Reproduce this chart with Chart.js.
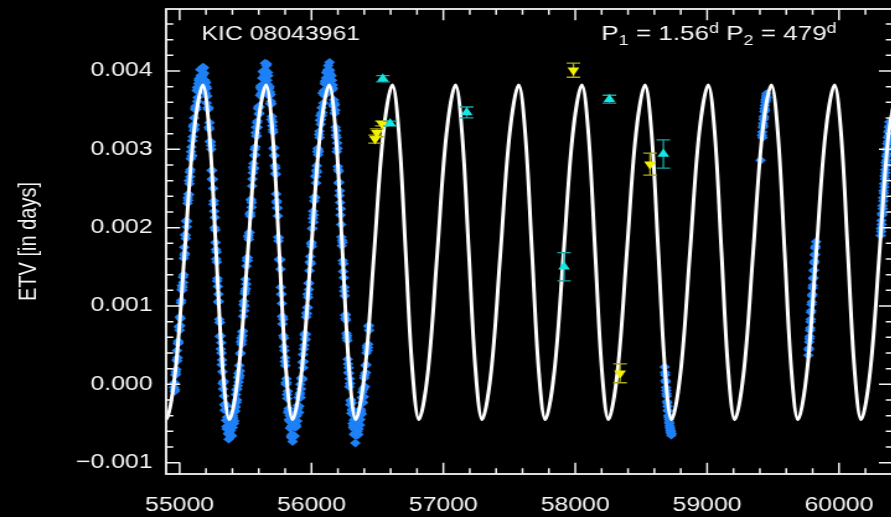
<!DOCTYPE html>
<html lang="en">
<head>
<meta charset="UTF-8">
<title>KIC 08043961 ETV</title>
<script src="https://cdn.jsdelivr.net/npm/chart.js"></script>
<style>
  html, body { margin: 0; padding: 0; background: #000; overflow: hidden; }
</style>
</head>
<body>
<!-- drawn at 726 px wide, shown at 900 px: the plot is stretched sideways -->
<canvas id="etv" width="726" height="517" style="display:block;width:900px;height:517px"></canvas>
<script>
// ETV values of the blue points are kept in units of 1e-5 d
const ETV_UNIT = 1e-5;

const xTicks = [55000, 56000, 57000, 58000, 59000, 60000];
const yTicks = [-0.001, 0, 0.001, 0.002, 0.003, 0.004];

// Kepler primary minima (MJD)
const keplerPriDays = [
  54957,54962,54967,54972,54977,54982,54987,54992,54997,55002,
  55007,55012,55017,55022,55027,55032,55037,55042,55047,55052,
  55057,55062,55067,55072,55077,55082,55087,55092,55097,55102,
  55107,55112,55117,55122,55127,55132,55137,55142,55147,55152,
  55157,55162,55167,55172,55177,55182,55187,55192,55197,55202,
  55207,55212,55217,55222,55227,55232,55237,55242,55247,55252,
  55257,55262,55267,55272,55277,55282,55287,55292,55297,55302,
  55307,55312,55317,55322,55327,55332,55337,55342,55347,55352,
  55357,55362,55367,55372,55377,55382,55387,55392,55397,55402,
  55407,55412,55417,55422,55427,55432,55437,55442,55447,55452,
  55457,55462,55467,55472,55477,55482,55487,55492,55497,55502,
  55507,55512,55517,55522,55527,55532,55537,55542,55547,55552,
  55557,55562,55567,55572,55577,55582,55587,55592,55597,55602,
  55607,55612,55617,55622,55627,55632,55637,55642,55647,55652,
  55657,55662,55667,55672,55677,55682,55687,55692,55697,55702,
  55707,55712,55717,55722,55727,55732,55737,55742,55747,55752,
  55757,55762,55767,55772,55777,55782,55787,55792,55797,55802,
  55807,55812,55817,55822,55827,55832,55837,55842,55847,55852,
  55857,55862,55867,55872,55877,55882,55887,55892,55897,55902,
  55907,55912,55917,55922,55927,55932,55937,55942,55947,55952,
  55957,55962,55967,55972,55977,55982,55987,55992,55997,56002,
  56007,56012,56017,56022,56027,56032,56037,56042,56047,56052,
  56057,56062,56067,56072,56077,56082,56087,56092,56097,56102,
  56107,56112,56117,56122,56127,56132,56137,56142,56147,56152,
  56157,56162,56167,56172,56177,56182,56187,56192,56197,56202,
  56207,56212,56217,56222,56227,56232,56237,56242,56247,56252,
  56257,56262,56267,56272,56277,56282,56287,56292,56297,56302,
  56307,56312,56317,56322,56327,56332,56337,56342,56347,56352,
  56357,56362,56367,56372,56377,56382,56387,56392,56397,56402,
  56407,56412,56417,56422,56427,56432,56437
];
const keplerPriEtv = [
  -4, -9, 12, 13, 31, 30, 52, 53, 74,
  86, 84, 107, 126, 124, 130, 161, 165, 191, 186, 209, 208, 238, 243, 242, 271, 274, 297, 291, 311,
  329, 324, 326, 351, 355, 351, 379, 366, 384, 390, 382, 402, 394, 386, 403,
  405, 388, 397, 388, 372, 380, 378, 353, 352, 328, 334, 310, 305, 273, 273, 262, 230, 221, 213, 181,
  160, 156, 135, 105, 106, 79, 79, 45, 40, 31, 1, 3, -15, -33, -27, -46, -57, -47, -63, -70, -63,
  -65, -59, -65, -48, -55, -43, -50, -28, -34, -13, -23, -6, 9, 3, 24, 17, 40, 59, 56, 62,
  87, 106, 100, 119, 122, 151, 161, 158, 190, 193, 217, 215, 235, 232, 262, 277, 275, 292, 293, 321,
  317, 334, 328, 354, 355, 354, 379, 377, 372, 391, 399, 390, 398, 410, 398,
  407, 409, 383, 394, 378, 380, 358, 361, 358, 330, 325, 301, 302, 279, 276, 243, 234, 225, 188, 187,
  160, 159, 124, 115, 87, 86, 62, 59, 29, 24, 0, 2, -18, -36, -31, -47, -56, -55, -68, -64, -73,
  -66, -54, -66, -46, -52, -36, -47, -31, -17, -28, -11, -17, 8, 8, 28, 21, 45, 63, 58, 64,
  91, 98, 98, 129, 129, 156, 156, 179, 176, 199, 221, 216, 239, 238, 265, 273, 271, 301, 299, 319,
  315, 343, 338, 353, 347, 372, 371, 369, 387, 384, 398, 385, 399, 407, 399,
  411, 396, 381, 394, 376, 378, 355, 359, 357, 328, 324, 297, 301, 274, 272, 241, 232, 224, 188, 184,
  158, 154, 119, 113, 84, 82, 59, 56, 26, 21, -3, 1, -21, -37, -33, -50, -53, -64, -63, -75,
  -65, -54, -65, -48, -57, -45, -52, -32, -37, -17, -24, -7, -16, 11, 14, 15, 40, 46, 47, 74, 69
];

// Kepler secondary minima (MJD)
const keplerSecDays = [
  54960,54965,54970,54975,54980,54985,54990,54995,55000,55005,
  55010,55015,55020,55025,55030,55035,55040,55045,55050,55055,
  55060,55065,55070,55075,55080,55085,55090,55095,55100,55105,
  55110,55115,55120,55125,55130,55135,55140,55145,55150,55155,
  55160,55165,55170,55175,55180,55185,55190,55195,55200,55205,
  55210,55215,55220,55225,55230,55235,55240,55245,55250,55255,
  55260,55265,55270,55275,55280,55285,55290,55295,55300,55305,
  55310,55315,55320,55325,55330,55335,55340,55345,55350,55355,
  55360,55365,55370,55375,55380,55385,55390,55395,55400,55405,
  55410,55415,55420,55425,55430,55435,55440,55445,55450,55455,
  55460,55465,55470,55475,55480,55485,55490,55495,55500,55505,
  55510,55515,55520,55525,55530,55535,55540,55545,55550,55555,
  55560,55565,55570,55575,55580,55585,55590,55595,55600,55605,
  55610,55615,55620,55625,55630,55635,55640,55645,55650,55655,
  55660,55665,55670,55675,55680,55685,55690,55695,55700,55705,
  55710,55715,55720,55725,55730,55735,55740,55745,55750,55755,
  55760,55765,55770,55775,55780,55785,55790,55795,55800,55805,
  55810,55815,55820,55825,55830,55835,55840,55845,55850,55855,
  55860,55865,55870,55875,55880,55885,55890,55895,55900,55905,
  55910,55915,55920,55925,55930,55935,55940,55945,55950,55955,
  55960,55965,55970,55975,55980,55985,55990,55995,56000,56005,
  56010,56015,56020,56025,56030,56035,56040,56045,56050,56055,
  56060,56065,56070,56075,56080,56085,56090,56095,56100,56105,
  56110,56115,56120,56125,56130,56135,56140,56145,56150,56155,
  56160,56165,56170,56175,56180,56185,56190,56195,56200,56205,
  56210,56215,56220,56225,56230,56235,56240,56245,56250,56255,
  56260,56265,56270,56275,56280,56285,56290,56295,56300,56305,
  56310,56315,56320,56325,56330,56335,56340,56345,56350,56355,
  56360,56365,56370,56375,56380,56385,56390,56395,56400,56405,
  56410,56415,56420,56425,56430,56435
];
const keplerSecEtv = [
  2, -7, 16, 19, 43, 34, 55, 73, 69, 75,
  104, 121, 120, 137, 140, 175, 167, 190, 208, 201,
  231, 235, 260, 256, 265, 288, 303, 292, 316, 331,
  340, 331, 353, 353, 375, 361, 377, 388, 377, 375,
  394, 401, 389, 394, 383, 404, 381, 386, 385, 359,
  368, 351, 353, 326, 310, 309, 300, 262, 261, 250,
  234, 200, 197, 172, 169, 132, 125, 115, 83, 61,
  62, 53, 25, 16, -6, 4, -26, -25, -28, -54,
  -42, -54, -44, -62, -65, -52, -46, -66, -48, -40,
  -36, -47, -28, -29, -7, -20, -2, 14, 8, 11,
  39, 54, 51, 67, 68, 102, 94, 116, 134, 128,
  158, 162, 188, 185, 194, 219, 236, 226, 253, 270,
  282, 276, 300, 303, 328, 317, 336, 352, 345, 346,
  369, 381, 371, 381, 375, 400, 383, 395, 401, 382,
  398, 388, 398, 377, 368, 373, 370, 338, 342, 335,
  322, 292, 292, 269, 268, 232, 225, 215, 183, 159,
  159, 147, 115, 103, 77, 83, 48, 43, 34, 2,
  7, -13, -9, -34, -45, -40, -40, -66, -53, -50,
  -50, -66, -51, -55, -37, -54, -40, -27, -36, -36,
  -13, 0, -6, 7, 6, 38, 29, 50, 65, 57,
  86, 90, 115, 111, 121, 145, 163, 154, 181, 199,
  212, 207, 234, 239, 266, 257, 279, 297, 293, 297,
  323, 337, 332, 346, 343, 372, 359, 375, 384, 370,
  391, 386, 401, 387, 385, 397, 401, 376, 388, 388,
  382, 357, 363, 346, 350, 318, 315, 308, 278, 257,
  258, 247, 216, 204, 177, 181, 144, 136, 124, 88,
  89, 65, 62, 32, 15, 14, 7, -26, -20, -24,
  -32, -55, -46, -57, -44, -65, -55, -47, -60, -64,
  -44, -35, -45, -34, -38, -10, -23, -5, 8, -3,
  24, 25, 49, 43, 51, 75
];

// TESS sectors
const tessDays = [
  58678,58680,58682,58684,58686,58688,58690,58692,58694,58696,58698,58700,58702,58704,
  58706,58708,58710,58712,58714,58716,58718,58720,58722,58724,58726,58728,58730,
  59405,
  59416,59418,59420,59422,59424,59426,59428,59430,59432,59434,59436,59438,59440,59442,
  59444,59446,59448,59450,59452,
  59768,59770,59772,59774,59776,59778,59780,59782,59784,59786,59788,59790,59792,59794,
  59796,59798,59800,59802,59804,59806,59808,59810,59812,59814,59816,59818,59820,59822,59826,
  60316,60318,60320,60322,60324,60326,60328,60330,60332,60334,60336,60338,60340,60342,
  60344,60346,60348,60350,60352,60354,60356,60358,60360,60362,60364,60366,60368,60370,
  60372,60374,60376,60378,60380,60382,60384
];
const tessEtv = [
  22, 15, 12, 5, 3, -4, -8, -12, -15, -22, -24, -28, -33, -34,
  -40, -42, -45, -48, -50, -53, -55, -57, -59, -62, -60, -65, -63,
  286,
  318, 322, 315, 328, 333, 330, 338, 342, 340, 348, 352, 356, 350, 360,
  364, 362, 368, 371, 366,
  37, 44, 46, 54, 58, 61, 69, 72, 80, 83, 92, 94, 102, 105,
  113, 115, 123, 126, 135, 136, 145, 146, 155, 157, 165, 166, 174, 176, 182,
  190, 199, 195, 209, 204, 218, 216, 228, 224, 238, 234, 247, 244, 256,
  252, 266, 262, 274, 270, 283, 279, 291, 286, 299, 294, 307, 302, 315,
  310, 322, 317, 328, 324, 335, 330
];

// ground-based minima (up = primary, down = secondary), value and error in days
const cyanDays = [56541, 56596, 57177, 57915, 58259, 58668];
const cyanEtv  = [0.00390, 0.00333, 0.00347, 0.00150, 0.00364, 0.00294];
const cyanErr  = [0.00004, 0.00003, 0.00007, 0.00018, 0.00005, 0.00018];
const yellowDays = [56482, 56495, 56533, 57986, 58340, 58567];
const yellowEtv  = [0.00313, 0.00321, 0.00333, 0.00401, 0.00014, 0.00281];
const yellowErr  = [0.00005, 0.00005, 0.00003, 0.00009, 0.00012, 0.00014];

// LTTE model curve, P2 = 479 d
const modelDays = [
  54849, 54899, 54968, 55038, 55107,
  55176, 55226, 55277, 55328, 55378, 55447, 55517, 55586,
  55655, 55705, 55756, 55807, 55857, 55926, 55996, 56065,
  56134, 56184, 56235, 56286, 56336, 56405, 56475, 56544,
  56613, 56663, 56714, 56765, 56815, 56884, 56954, 57023,
  57092, 57142, 57193, 57244, 57294, 57363, 57433, 57502,
  57571, 57621, 57672, 57723, 57773, 57842, 57912, 57981,
  58050, 58100, 58151, 58202, 58252, 58321, 58391, 58460,
  58529, 58579, 58630, 58681, 58731, 58800, 58870, 58939,
  59008, 59058, 59109, 59160, 59210, 59279, 59349, 59418,
  59487, 59537, 59588, 59639, 59689, 59758, 59828, 59897,
  59966, 60016, 60067, 60118, 60168, 60237, 60307, 60376,
  60445
];
const modelEtv = [
  0.000175, -0.00045, 0.000175, 0.001685, 0.003195,
  0.00382, 0.003195, 0.001685, 0.000175, -0.00045, 0.000175, 0.001685, 0.003195,
  0.00382, 0.003195, 0.001685, 0.000175, -0.00045, 0.000175, 0.001685, 0.003195,
  0.00382, 0.003195, 0.001685, 0.000175, -0.00045, 0.000175, 0.001685, 0.003195,
  0.00382, 0.003195, 0.001685, 0.000175, -0.00045, 0.000175, 0.001685, 0.003195,
  0.00382, 0.003195, 0.001685, 0.000175, -0.00045, 0.000175, 0.001685, 0.003195,
  0.00382, 0.003195, 0.001685, 0.000175, -0.00045, 0.000175, 0.001685, 0.003195,
  0.00382, 0.003195, 0.001685, 0.000175, -0.00045, 0.000175, 0.001685, 0.003195,
  0.00382, 0.003195, 0.001685, 0.000175, -0.00045, 0.000175, 0.001685, 0.003195,
  0.00382, 0.003195, 0.001685, 0.000175, -0.00045, 0.000175, 0.001685, 0.003195,
  0.00382, 0.003195, 0.001685, 0.000175, -0.00045, 0.000175, 0.001685, 0.003195,
  0.00382, 0.003195, 0.001685, 0.000175, -0.00045, 0.000175, 0.001685, 0.003195,
  0.00382
];

const FONT = "'Liberation Sans', Arial, Helvetica, sans-serif";
const INK = '#f4f4f4';
const BLUE = '#1e80f6';

function toPoints(xs, ys, unit) {
  return xs.map((x, i) => ({ x: x, y: ys[i] * unit }));
}

// inward ticks on all four sides plus the box
const framePlugin = {
  id: 'frame',
  afterDatasetsDraw(chart) {
    const { ctx, chartArea: a, scales: { x, y } } = chart;
    ctx.save();
    ctx.strokeStyle = INK;
    ctx.lineWidth = 1.8;
    ctx.strokeRect(a.left, a.top, a.right - a.left, a.bottom - a.top);
    ctx.lineWidth = 1.5;
    ctx.beginPath();
    for (let v = 54800; v <= 60600; v += 200) {
      const px = x.getPixelForValue(v);
      if (px <= a.left + 1 || px >= a.right - 1) continue;
      const len = v % 1000 === 0 ? 11.3 : 5.8;
      ctx.moveTo(px, a.bottom); ctx.lineTo(px, a.bottom - len);
      ctx.moveTo(px, a.top); ctx.lineTo(px, a.top + len);
    }
    for (let k = -6; k <= 24; k++) {
      const py = y.getPixelForValue(k * 0.0002);
      if (py <= a.top + 1 || py >= a.bottom - 1) continue;
      const len = k % 5 === 0 ? 11.3 : 5.8;
      ctx.moveTo(a.left, py); ctx.lineTo(a.left + len, py);
      ctx.moveTo(a.right, py); ctx.lineTo(a.right - len, py);
    }
    ctx.stroke();
    ctx.restore();
  }
};

// error bars under the triangle markers
const errorBarPlugin = {
  id: 'errorBars',
  beforeDatasetDraw(chart, args) {
    const ds = chart.data.datasets[args.index];
    if (!ds.errors) return;
    const { ctx, scales: { x, y } } = chart;
    ctx.save();
    ctx.strokeStyle = ds.errorColor;
    ctx.lineWidth = 1.3;
    ctx.beginPath();
    ds.data.forEach((p, i) => {
      const px = x.getPixelForValue(p.x);
      const lo = y.getPixelForValue(p.y - ds.errors[i]);
      const hi = y.getPixelForValue(p.y + ds.errors[i]);
      ctx.moveTo(px, lo); ctx.lineTo(px, hi);
      ctx.moveTo(px - 5.5, lo); ctx.lineTo(px + 5.5, lo);
      ctx.moveTo(px - 5.5, hi); ctx.lineTo(px + 5.5, hi);
    });
    ctx.stroke();
    ctx.restore();
  }
};

// star id and periods in the top corners
const labelPlugin = {
  id: 'labels',
  afterDraw(chart) {
    const ctx = chart.ctx;
    ctx.save();
    ctx.fillStyle = INK;
    ctx.textBaseline = 'alphabetic';
    ctx.textAlign = 'left';
    ctx.font = `20px ${FONT}`;
    ctx.fillText('KIC 08043961', 162.5, 39.5);

    const parts = [
      ['P', 21, 40], ['1', 14.5, 45], [' = 1.56', 21, 40], ['d', 14.5, 33],
      [' P', 21, 40], ['2', 14.5, 45], [' = 479', 21, 40], ['d', 14.5, 33]
    ];
    let cx = 485;
    parts.forEach(([txt, size, base]) => {
      ctx.font = `${size}px ${FONT}`;
      ctx.fillText(txt, cx, base);
      cx += ctx.measureText(txt).width;
    });
    ctx.restore();
  }
};

const bluePoints = toPoints(keplerPriDays, keplerPriEtv, ETV_UNIT)
  .concat(toPoints(keplerSecDays, keplerSecEtv, ETV_UNIT))
  .concat(toPoints(tessDays, tessEtv, ETV_UNIT));

new Chart(document.getElementById('etv'), {
  type: 'scatter',
  data: {
    datasets: [
      {
        label: 'Kepler / TESS',
        data: bluePoints,
        pointStyle: 'rectRot',
        pointRadius: 4.4,
        pointBackgroundColor: BLUE,
        pointBorderWidth: 0,
        order: 4
      },
      {
        label: 'model',
        data: toPoints(modelDays, modelEtv, 1),
        showLine: true,
        tension: 0.35,
        borderColor: '#ffffff',
        borderWidth: 3,
        pointRadius: 0,
        fill: false,
        order: 3
      },
      {
        label: 'secondary',
        data: toPoints(yellowDays, yellowEtv, 1),
        pointStyle: 'triangle',
        pointRotation: 180,
        pointRadius: 5.5,
        pointBackgroundColor: '#f2f200',
        pointBorderWidth: 0,
        errors: yellowErr,
        errorColor: '#a9a91c',
        order: 2
      },
      {
        label: 'primary',
        data: toPoints(cyanDays, cyanEtv, 1),
        pointStyle: 'triangle',
        pointRadius: 5.5,
        pointBackgroundColor: '#14e6e6',
        pointBorderWidth: 0,
        errors: cyanErr,
        errorColor: '#17a6a6',
        order: 1
      }
    ]
  },
  options: {
    responsive: false,
    animation: false,
    devicePixelRatio: 1,
    layout: { padding: { top: 9, right: 5.7, bottom: 0, left: 0 } },
    plugins: {
      legend: { display: false },
      tooltip: { enabled: false }
    },
    scales: {
      x: {
        type: 'linear',
        min: 54897.6,
        max: 60409,
        grid: { display: false, drawTicks: false },
        border: { display: false },
        afterBuildTicks: s => { s.ticks = xTicks.map(v => ({ value: v })); },
        ticks: {
          autoSkip: false,
          maxRotation: 0,
          padding: 19.5,
          color: INK,
          font: { family: FONT, size: 20 },
          callback: v => String(v)
        },
        afterFit: s => { s.height = 43; s.paddingLeft = 0; s.paddingRight = 0; }
      },
      y: {
        min: -0.001145,
        max: 0.004791,
        grid: { display: false, drawTicks: false },
        border: { display: false },
        afterBuildTicks: s => { s.ticks = yTicks.map(v => ({ value: v })); },
        ticks: {
          autoSkip: false,
          padding: 11,
          color: INK,
          font: { family: FONT, size: 20 },
          callback: v => v === 0 ? '0.000' : (v < 0 ? '\u2212' : '') + Math.abs(v).toFixed(3)
        },
        title: {
          display: true,
          text: 'ETV [in days]',
          color: INK,
          font: { family: FONT, size: 20 },
          padding: { top: 11, bottom: 0 }
        },
        afterFit: s => { s.width = 134; s.paddingTop = 0; s.paddingBottom = 0; }
      }
    }
  },
  plugins: [framePlugin, errorBarPlugin, labelPlugin]
});
</script>
</body>
</html>
